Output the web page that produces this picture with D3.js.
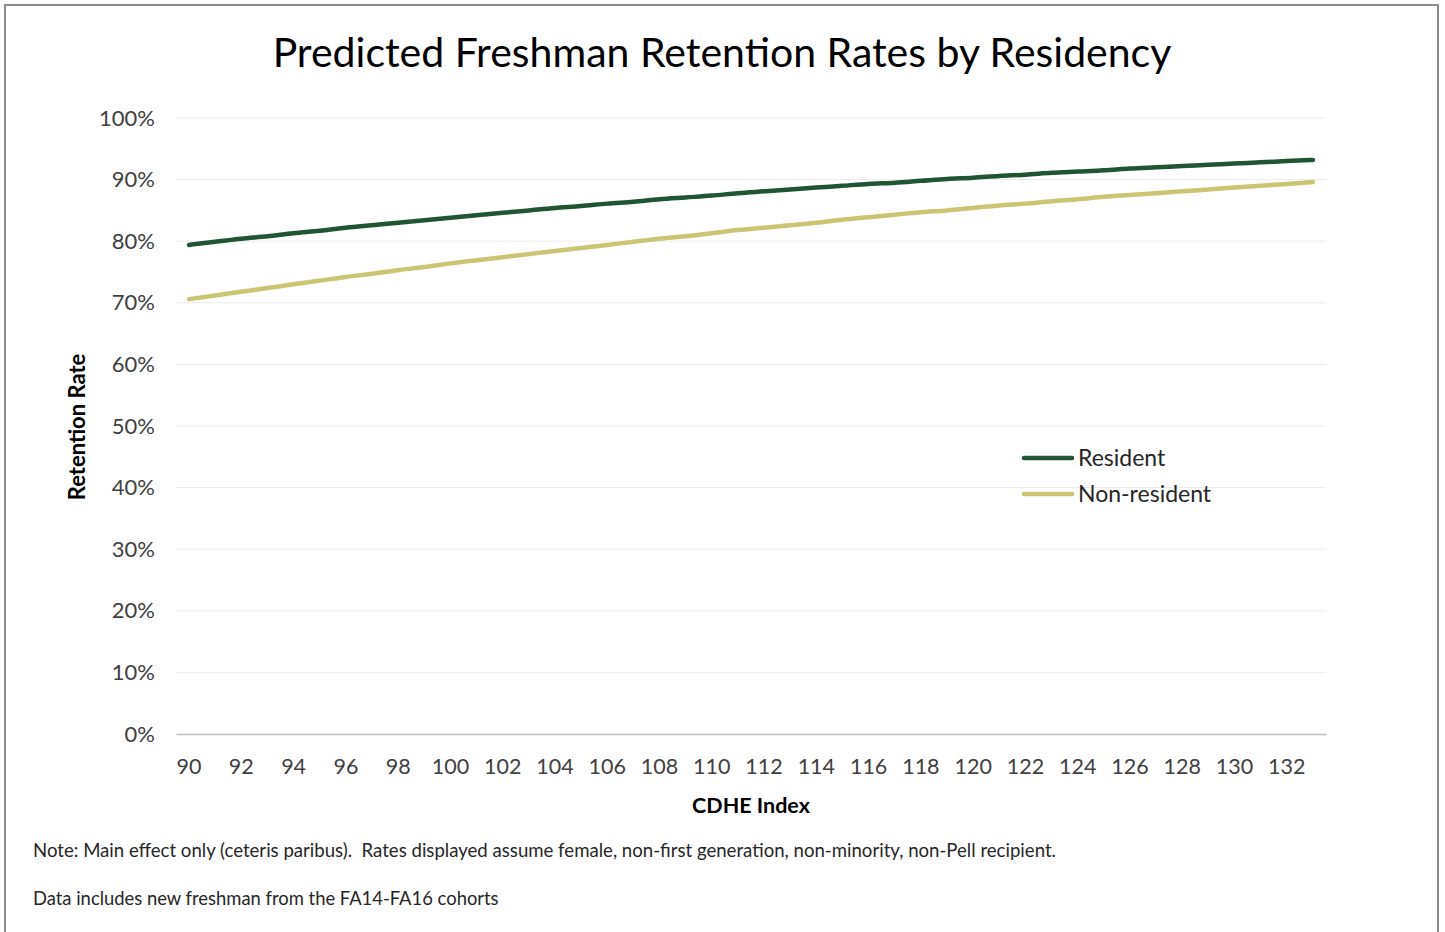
<!DOCTYPE html>
<html>
<head>
<meta charset="utf-8">
<script src="https://cdn.jsdelivr.net/npm/d3@7"></script>
<style>
  html, body { margin: 0; padding: 0; background: #fff; }
  svg { display: block; font-family: Lato, "Open Sans", sans-serif; }
</style>
</head>
<body>
<svg id="chart" width="1445" height="932"></svg>
<script>
// CDHE index values (one category per integer)
const cdheIndex = d3.range(90, 134);
const tickLabels = ["90","92","94","96","98","100","102","104","106","108","110","112","114","116","118","120","122","124","126","128","130","132"];
const yTicks = [0, 0.1, 0.2, 0.3, 0.4, 0.5, 0.6, 0.7, 0.8, 0.9, 1.0];

// Predicted retention rate (%) for residents
const resident = [79.4, 79.9, 80.4, 80.8, 81.3, 81.7, 82.2, 82.6, 83.0, 83.4,
                  83.8, 84.2, 84.6, 85.0, 85.4, 85.7, 86.1, 86.4, 86.8, 87.1,
                  87.4, 87.8, 88.1, 88.4, 88.7, 89.0, 89.3, 89.5, 89.8, 90.1,
                  90.3, 90.6, 90.8, 91.1, 91.3, 91.5, 91.8, 92.0, 92.2, 92.4,
                  92.6, 92.8, 93.0, 93.2];
// Predicted retention rate (%) for non-residents
const nonResident = [70.6, 71.2, 71.8, 72.4, 73.0, 73.6, 74.2, 74.7, 75.3, 75.8,
                     76.4, 76.9, 77.4, 77.9, 78.4, 78.9, 79.4, 79.9, 80.4, 80.8,
                     81.3, 81.8, 82.2, 82.6, 83.0, 83.5, 83.9, 84.3, 84.7, 85.0,
                     85.4, 85.8, 86.1, 86.5, 86.8, 87.2, 87.5, 87.8, 88.1, 88.4,
                     88.7, 89.0, 89.3, 89.6];

const seriesNames = ["Resident", "Non-resident"];
const seriesColors = ["#1f5530", "#cbc573"];

const svg = d3.select("#chart");

// outer frame
svg.append("rect")
  .attr("x", 5).attr("y", 5).attr("width", 1433).attr("height", 940)
  .attr("fill", "#fff").attr("stroke", "#8c8c8c").attr("stroke-width", 2);

const plot = { left: 176, right: 1326, top: 118, bottom: 734 };

const x = d3.scaleBand()
  .domain(cdheIndex.map(String))
  .range([plot.left, plot.right])
  .padding(0);

const y = d3.scaleLinear()
  .domain([0, 1])
  .range([plot.bottom, plot.top]);

// horizontal gridlines
svg.append("g")
  .selectAll("line")
  .data(yTicks.filter(d => d > 0))
  .join("line")
  .attr("x1", plot.left).attr("x2", plot.right)
  .attr("y1", d => y(d)).attr("y2", d => y(d))
  .attr("stroke", "#ececec").attr("stroke-width", 1);

// y axis labels
const yAxis = d3.axisLeft(y).tickValues(yTicks).tickFormat(d3.format(".0%")).tickSize(0).tickPadding(21);
const yg = svg.append("g").attr("transform", `translate(${plot.left},0)`).call(yAxis);
yg.select(".domain").remove();
yg.selectAll("text").attr("font-size", 22).attr("fill", "#404040").attr("font-family", "Lato, sans-serif");

// x axis
const xAxis = d3.axisBottom(x).tickValues(tickLabels).tickSize(0).tickPadding(25);
const xg = svg.append("g").attr("transform", `translate(0,${plot.bottom})`).call(xAxis);
xg.select(".domain").attr("stroke", "#bfbfbf").attr("stroke-width", 1.5);
xg.selectAll("text").attr("font-size", 21.5).attr("fill", "#404040").attr("font-family", "Lato, sans-serif");

// lines
const line = d3.line()
  .x((d, i) => x(String(cdheIndex[i])) + x.bandwidth() / 2)
  .y(d => y(d / 100))
  .curve(d3.curveMonotoneX);

[resident, nonResident].forEach((vals, k) => {
  svg.append("path")
    .datum(vals)
    .attr("d", line)
    .attr("fill", "none")
    .attr("stroke", seriesColors[k])
    .attr("stroke-width", 4.5)
    .attr("stroke-linecap", "round")
    .attr("stroke-linejoin", "round");
});

// title
svg.append("text")
  .attr("x", 722).attr("y", 67)
  .attr("text-anchor", "middle")
  .attr("font-size", 41).attr("fill", "#000")
  .text("Predicted Freshman Retention Rates by Residency");

// axis titles
svg.append("text")
  .attr("transform", "translate(85,427) rotate(-90)")
  .attr("text-anchor", "middle")
  .attr("font-size", 22).attr("font-weight", "bold").attr("fill", "#000")
  .text("Retention Rate");

svg.append("text")
  .attr("x", 751).attr("y", 813)
  .attr("text-anchor", "middle")
  .attr("font-size", 21.5).attr("font-weight", "bold").attr("fill", "#000")
  .text("CDHE Index");

// legend
const legend = svg.append("g");
seriesNames.forEach((name, k) => {
  const ly = 458 + k * 36;
  legend.append("line")
    .attr("x1", 1024).attr("x2", 1072).attr("y1", ly).attr("y2", ly)
    .attr("stroke", seriesColors[k]).attr("stroke-width", 4.5).attr("stroke-linecap", "round");
  legend.append("text")
    .attr("x", 1078).attr("y", ly + 8)
    .attr("font-size", 23).attr("fill", "#262626")
    .text(name);
});

// notes
svg.append("text")
  .attr("x", 33).attr("y", 857)
  .attr("font-size", 18.6).attr("fill", "#262626")
  .text("Note: Main effect only (ceteris paribus).  Rates displayed assume female, non-first generation, non-minority, non-Pell recipient.")
  .style("white-space", "pre");

svg.append("text")
  .attr("x", 33).attr("y", 905)
  .attr("font-size", 18.4).attr("fill", "#262626")
  .text("Data includes new freshman from the FA14-FA16 cohorts");
</script>
</body>
</html>
